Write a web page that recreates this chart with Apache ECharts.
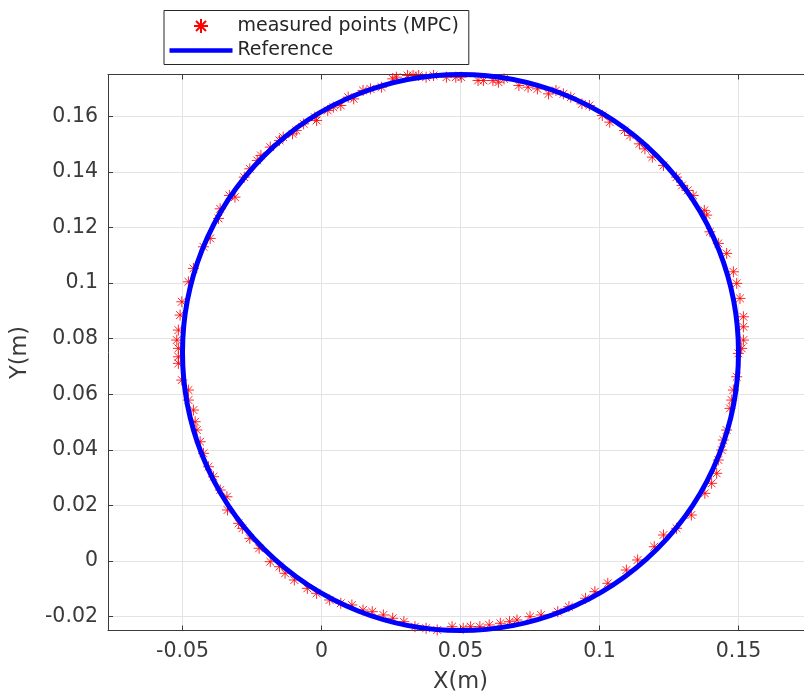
<!DOCTYPE html>
<html>
<head>
<meta charset="utf-8">
<title>Measured points vs reference circle</title>
<script src="https://cdn.jsdelivr.net/npm/echarts@6/dist/echarts.min.js"></script>
<style>
  html, body { margin: 0; padding: 0; background: #ffffff; }
  #chart { width: 804px; height: 698px; }
</style>
</head>
<body>
<div id="chart"></div>
<script>
// Tick positions of both axes (metres)
const xTicks = [-0.05, 0, 0.05, 0.1, 0.15];
const yTicks = [-0.02, 0, 0.02, 0.04, 0.06, 0.08, 0.1, 0.12, 0.14, 0.16];

// Reference trajectory: circle centre and radius (metres)
const refCenter = [0.05, 0.075];
const refRadius = 0.1;

// Points measured by the MPC run (metres)
const measuredX = [
  -0.03647, -0.03312, -0.03113, -0.02778, -0.02579, -0.02312, -0.02179, -0.01843, -0.01512, -0.01378,
  -0.01043, -0.00909, -0.00642, -0.00242, -0.00177, 0.00224, 0.00426, 0.00693, 0.00960, 0.01158,
  0.01494, 0.01760, 0.02161, 0.02561, 0.02695, 0.03095, 0.03294, 0.03496, 0.03763, 0.04030,
  0.04495, 0.04830, 0.05029, 0.05631, 0.05830, 0.06165, 0.06364, 0.06566, 0.07100, 0.07431,
  0.07767, 0.08167, 0.08434, 0.08701, 0.08968, 0.09369, 0.09636, 0.10101, 0.10368, 0.10902,
  0.11100, 0.11436, 0.11634, 0.11901, 0.12302, 0.12771, 0.12969, 0.13171, 0.13369, 0.13770,
  0.13853, 0.13972, 0.14275, 0.14574, 0.14816, 0.14935, 0.15054, 0.15177, 0.15177, 0.15177,
  0.15115, 0.14996, 0.14935, 0.14816, 0.14755, 0.14693, 0.14574, 0.14455, 0.14394, 0.14275,
  0.14214, 0.14033, 0.13791,
  0.13304, 0.12771, 0.12302, 0.11970, 0.11371, 0.10967, 0.10299, 0.09834, 0.09499, 0.08900,
  0.08499, 0.07900, 0.07500, 0.07031, 0.06764, 0.06432, 0.06032, 0.05696, 0.05364, 0.05097,
  0.04697, 0.04163, 0.03763, 0.03362, 0.02962, 0.02561, 0.02226, 0.01825, 0.01494, 0.01093,
  0.00693, 0.00292, -0.00177, -0.00509, -0.00978, -0.01310, -0.01512, -0.01843, -0.02244, -0.02579,
  -0.02846, -0.02980, -0.03380,
  -0.03705, -0.04004, -0.04246, -0.04607, -0.04787, -0.05025, -0.05087, -0.05148, -0.05206, -0.05148,
  -0.05148, -0.05148, -0.05025, -0.04787, -0.04787, -0.04607, -0.04545, -0.04484, -0.04365, -0.04246,
  -0.04066, -0.03885, -0.03644, -0.03402
];
const measuredY = [
  0.12668, 0.13150, 0.13089, 0.13808, 0.14107, 0.14409, 0.14588, 0.14887, 0.15128, 0.15246,
  0.15365, 0.15487, 0.15725, 0.15966, 0.15847, 0.16207, 0.16325, 0.16386, 0.16685, 0.16624,
  0.16926, 0.16983, 0.17044, 0.17343, 0.17404, 0.17465, 0.17465, 0.17465, 0.17404, 0.17465,
  0.17404, 0.17404, 0.17404, 0.17285, 0.17285, 0.17285, 0.17224, 0.17343, 0.17105, 0.17044,
  0.16983, 0.16803, 0.16926, 0.16803, 0.16685, 0.16444, 0.16386, 0.16027, 0.15786, 0.15487,
  0.15308, 0.15006, 0.14826, 0.14527, 0.14229, 0.13808, 0.13510, 0.13330, 0.13150, 0.12611,
  0.12442, 0.11841, 0.11424, 0.11064, 0.10403, 0.09986, 0.09446, 0.08785, 0.08425, 0.07947,
  0.07648, 0.07469, 0.06627, 0.06149, 0.05789, 0.05491, 0.04711, 0.04351, 0.03991, 0.03632,
  0.03154, 0.02794, 0.02434,
  0.01654, 0.01176, 0.00935, 0.00514, 0.00036, -0.00324, -0.00802, -0.01104, -0.01341, -0.01643,
  -0.01823, -0.01942, -0.02003, -0.02122, -0.02183, -0.02240, -0.02301, -0.02362, -0.02362, -0.02420,
  -0.02362, -0.02481, -0.02420, -0.02362, -0.02183, -0.02060, -0.01942, -0.01823, -0.01762, -0.01582,
  -0.01521, -0.01402, -0.01161, -0.00982, -0.00683, -0.00442, -0.00205, -0.00025, 0.00457, 0.00816,
  0.01176, 0.01356, 0.01834,
  0.12323, 0.11604, 0.11302, 0.10525, 0.10043, 0.09324, 0.08846, 0.08306, 0.07947, 0.07648,
  0.07346, 0.07109, 0.06508, 0.06149, 0.05789, 0.05430, 0.05009, 0.04711, 0.04290, 0.03873,
  0.03391, 0.03031, 0.02553, 0.02312
];

const measuredName = 'measured points (MPC)';
const referenceName = 'Reference';

// Eight-armed asterisk marker
const asteriskPath = 'path://M5,0L5,10M0,5L10,5M1.46,1.46L8.54,8.54M8.54,1.46L1.46,8.54';

const FONT = 'DejaVu Sans';
const AXIS_COLOR = '#3a3a3a';
const TEXT_COLOR = '#3a3a3a';
const GRID_COLOR = '#e3e3e3';

const measuredData = measuredX.map((x, i) => [x, measuredY[i]]);

const chart = echarts.init(document.getElementById('chart'), null, { renderer: 'canvas' });

const xRange = { min: -0.0768, max: 0.1768 };

chart.setOption({
  animation: false,
  backgroundColor: '#ffffff',
  grid: { left: 108, top: 74.5, width: 705, height: 556, containLabel: false, outerBoundsMode: 'none' },
  legend: {
    orient: 'vertical',
    left: 164,
    top: 10.5,
    padding: [5.5, 10, 4, 5.5],
    itemWidth: 63,
    itemHeight: 14,
    itemGap: 4.5,
    backgroundColor: '#ffffff',
    borderColor: '#262626',
    borderWidth: 1,
    borderRadius: 0,
    symbolKeepAspect: true,
    textStyle: { fontFamily: FONT, fontSize: 19, color: '#262626', lineHeight: 20 },
    data: [
      { name: measuredName, icon: asteriskPath },
      { name: referenceName, icon: 'path://M0,0H63V4.5H0Z' }
    ]
  },
  xAxis: [
    {
      type: 'value',
      gridIndex: 0,
      position: 'bottom',
      min: xRange.min,
      max: xRange.max,
      name: 'X(m)',
      nameLocation: 'middle',
      nameGap: 40,
      nameTextStyle: { fontFamily: FONT, fontSize: 22.5, color: TEXT_COLOR },
      axisLine: { show: true, onZero: false, lineStyle: { color: AXIS_COLOR, width: 1 } },
      axisTick: { show: true, inside: true, length: 5, customValues: xTicks, lineStyle: { color: AXIS_COLOR } },
      axisLabel: { show: true, customValues: xTicks, margin: 11, fontFamily: FONT, fontSize: 20.5, color: TEXT_COLOR },
      splitLine: { show: true, lineStyle: { color: GRID_COLOR, width: 1 } }
    },
    {
      type: 'value',
      gridIndex: 0,
      position: 'top',
      min: xRange.min,
      max: xRange.max,
      axisLine: { show: true, onZero: false, lineStyle: { color: AXIS_COLOR, width: 1 } },
      axisTick: { show: true, inside: true, length: 5, customValues: xTicks, lineStyle: { color: AXIS_COLOR } },
      axisLabel: { show: false },
      splitLine: { show: false }
    }
  ],
  yAxis: {
    type: 'value',
    min: -0.025,
    max: 0.175,
    name: 'Y(m)',
    nameLocation: 'middle',
    nameRotate: 90,
    nameGap: 76,
    nameTextStyle: { fontFamily: FONT, fontSize: 22.5, color: TEXT_COLOR },
    axisLine: { show: true, onZero: false, lineStyle: { color: AXIS_COLOR, width: 1 } },
    axisTick: { show: true, inside: true, length: 5, customValues: yTicks, lineStyle: { color: AXIS_COLOR } },
    axisLabel: { show: true, customValues: yTicks, margin: 10, fontFamily: FONT, fontSize: 20.5, color: TEXT_COLOR },
    splitLine: { show: true, lineStyle: { color: GRID_COLOR, width: 1 } }
  },
  series: [
    {
      name: measuredName,
      type: 'scatter',
      xAxisIndex: 0,
      symbol: asteriskPath,
      symbolSize: 11,
      itemStyle: { color: '#ff0000', borderColor: '#ff0000', borderWidth: 0.85, opacity: 1 },
      data: measuredData,
      z: 2
    },
    {
      name: referenceName,
      type: 'custom',
      xAxisIndex: 0,
      encode: { x: 0, y: 1 },
      itemStyle: { color: '#0000ff' },
      data: [[refCenter[0], refCenter[1], refRadius]],
      renderItem: function (params, api) {
        const c = api.coord([api.value(0), api.value(1)]);
        const s = api.size([api.value(2), api.value(2)]);
        return {
          type: 'arc',
          shape: { cx: c[0], cy: c[1], r: (s[0] + s[1]) / 2, startAngle: 0, endAngle: Math.PI * 2 },
          style: { stroke: '#0000ff', fill: null, lineWidth: 5 }
        };
      },
      z: 3
    }
  ]
});
</script>
</body>
</html>
